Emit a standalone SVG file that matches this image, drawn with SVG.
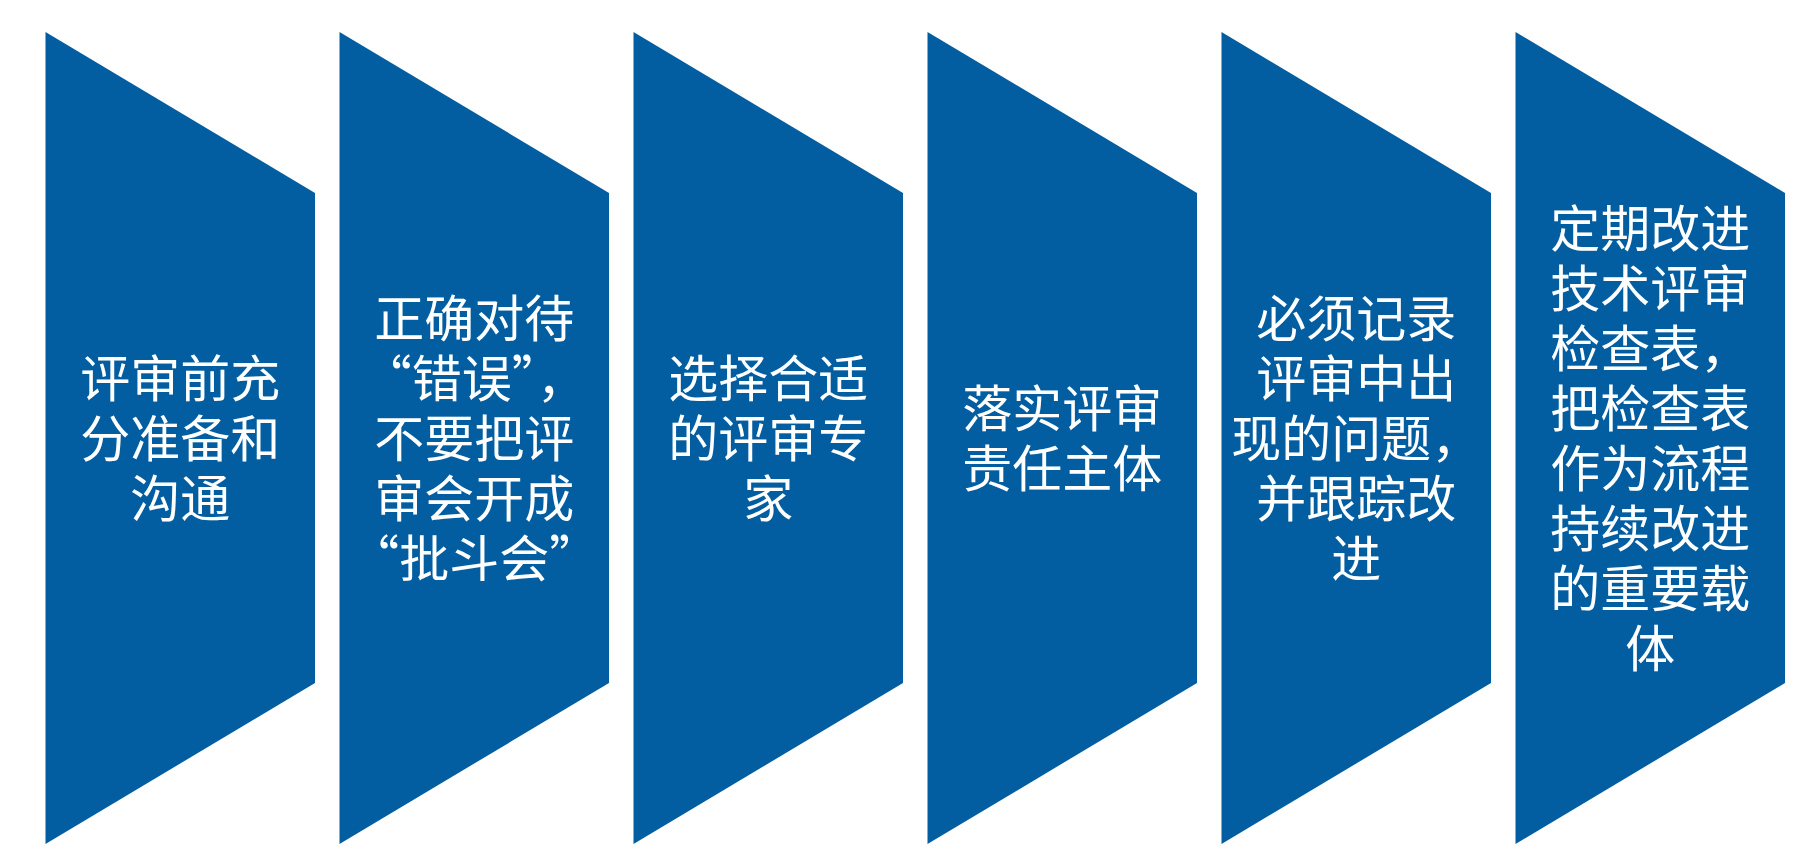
<svg xmlns="http://www.w3.org/2000/svg" width="1806" height="860" viewBox="0 0 1806 860">
<style>
.shape{fill:#025DA1;}
.lbl{font-family:"Noto Sans CJK SC","Liberation Sans",sans-serif;font-size:50px;fill:#FFFFFF;text-anchor:middle;}
</style>
<rect x="0" y="0" width="1806" height="860" fill="#FFFFFF"/>
<g id="connectors"></g>
<g id="node1">
<polygon class="shape" points="45.5,32 315,193 315,683 45.5,844"/>
<text class="lbl"><tspan x="180.25" y="397">评审前充</tspan><tspan x="180.25" y="457">分准备和</tspan><tspan x="180.25" y="517">沟通</tspan></text>
</g>
<g id="node2">
<polygon class="shape" points="339.5,32 609,193 609,683 339.5,844"/>
<text class="lbl"><tspan x="474.25" y="337">正确对待</tspan><tspan x="474.25" y="397">“错误”，</tspan><tspan x="474.25" y="457">不要把评</tspan><tspan x="474.25" y="517">审会开成</tspan><tspan x="474.25" y="577">“批斗会”</tspan></text>
</g>
<g id="node3">
<polygon class="shape" points="633.5,32 903,193 903,683 633.5,844"/>
<text class="lbl"><tspan x="768.25" y="397">选择合适</tspan><tspan x="768.25" y="457">的评审专</tspan><tspan x="768.25" y="517">家</tspan></text>
</g>
<g id="node4">
<polygon class="shape" points="927.5,32 1197,193 1197,683 927.5,844"/>
<text class="lbl"><tspan x="1062.25" y="427">落实评审</tspan><tspan x="1062.25" y="487">责任主体</tspan></text>
</g>
<g id="node5">
<polygon class="shape" points="1221.5,32 1491,193 1491,683 1221.5,844"/>
<text class="lbl"><tspan x="1356.25" y="337">必须记录</tspan><tspan x="1356.25" y="397">评审中出</tspan><tspan x="1356.25" y="457">现的问题，</tspan><tspan x="1356.25" y="517">并跟踪改</tspan><tspan x="1356.25" y="577">进</tspan></text>
</g>
<g id="node6">
<polygon class="shape" points="1515.5,32 1785,193 1785,683 1515.5,844"/>
<text class="lbl"><tspan x="1650.25" y="247">定期改进</tspan><tspan x="1650.25" y="307">技术评审</tspan><tspan x="1650.25" y="367">检查表，</tspan><tspan x="1650.25" y="427">把检查表</tspan><tspan x="1650.25" y="487">作为流程</tspan><tspan x="1650.25" y="547">持续改进</tspan><tspan x="1650.25" y="607">的重要载</tspan><tspan x="1650.25" y="667">体</tspan></text>
</g>
</svg>
